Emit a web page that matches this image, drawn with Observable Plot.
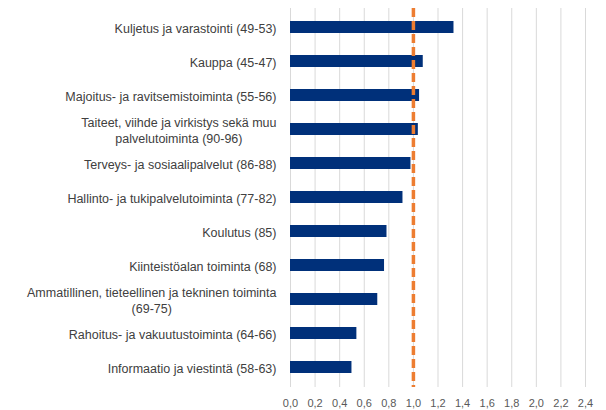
<!DOCTYPE html>
<html>
<head>
<meta charset="utf-8">
<script src="https://cdn.jsdelivr.net/npm/d3@7"></script>
<script src="https://cdn.jsdelivr.net/npm/@observablehq/plot@0.6"></script>
<style>
  html, body { margin: 0; padding: 0; background: #fff; }
  #chart { width: 606px; height: 410px; }
</style>
</head>
<body>
<div id="chart"></div>
<script>
const categories = [
  "Kuljetus ja varastointi (49-53)",
  "Kauppa (45-47)",
  "Majoitus- ja ravitsemistoiminta (55-56)",
  "Taiteet, viihde ja virkistys sekä muu\npalvelutoiminta (90-96)",
  "Terveys- ja sosiaalipalvelut (86-88)",
  "Hallinto- ja tukipalvelutoiminta (77-82)",
  "Koulutus (85)",
  "Kiinteistöalan toiminta (68)",
  "Ammatillinen, tieteellinen ja tekninen toiminta\n(69-75)",
  "Rahoitus- ja vakuutustoiminta (64-66)",
  "Informaatio ja viestintä (58-63)"
];
const values = [1.33, 1.08, 1.05, 1.04, 0.98, 0.915, 0.785, 0.765, 0.71, 0.54, 0.50];
const xTicks = [0, 0.2, 0.4, 0.6, 0.8, 1.0, 1.2, 1.4, 1.6, 1.8, 2.0, 2.2, 2.4];
const referenceValue = [1.0];

const data = categories.map((c, i) => ({category: c, value: values[i]}));
const fmt = v => d3.format(".1f")(v).replace(".", ",");

const chart = Plot.plot({
  width: 606,
  height: 410,
  marginLeft: 290,
  marginRight: 21,
  marginTop: 8,
  marginBottom: 23,
  style: {fontFamily: "'Liberation Sans', Arial, sans-serif", background: "#fff"},
  x: {domain: [0, 2.4], ticks: xTicks},
  y: {domain: categories, paddingInner: 0.64, paddingOuter: 0.34},
  marks: [
    Plot.gridX(xTicks, {stroke: "#d9d9d9", strokeOpacity: 1, strokeWidth: 1}),
    Plot.axisX({ticks: xTicks, tickFormat: fmt, tickSize: 0, tickPadding: 12, fontSize: 11, fill: "#595959", label: null}),
    Plot.axisY({tickSize: 0, tickPadding: 14, fontSize: 12.5, fill: "#404040", label: null, lineWidth: 50, lineHeight: 1.3}),
    Plot.barX(data, {x: "value", y: "category", fill: "#00307a"}),
    Plot.ruleX(referenceValue, {stroke: "#ed7d31", strokeWidth: 3.5, strokeDasharray: "9,4"})
  ]
});

document.getElementById("chart").appendChild(chart);

// center multi-line labels within their right-aligned block
chart.querySelectorAll("g[aria-label='y-axis tick label'] text").forEach(t => {
  const tspans = t.querySelectorAll("tspan");
  if (tspans.length > 1) {
    const w = t.getBBox().width;
    t.setAttribute("text-anchor", "middle");
    tspans.forEach(ts => ts.setAttribute("x", -w / 2));
  }
});
</script>
</body>
</html>
